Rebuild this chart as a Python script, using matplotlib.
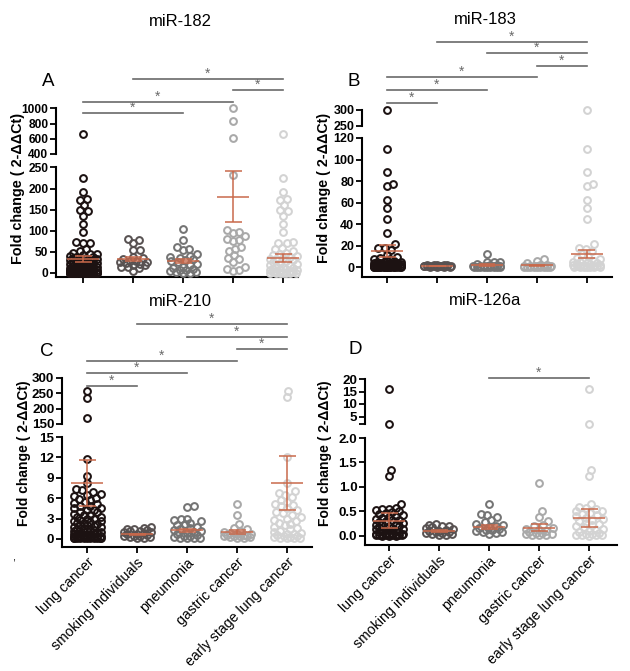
import numpy as np
import matplotlib
matplotlib.use("Agg")
import matplotlib.pyplot as plt
from matplotlib.lines import Line2D
from matplotlib.transforms import blended_transform_factory

plt.rcParams['font.family'] = ['Liberation Sans', 'DejaVu Sans']

W, H, DPI = 630, 671, 100

groups = ["lung cancer", "smoking individuals", "pneumonia", "gastric cancer", "early stage lung cancer"]
colors = ['#1c1212', '#585252', '#747474', '#a9a9a9', '#d3d3d3']
err_color = '#c9694b'

# ---- miR-182 (A) ----
lung_a = [660, 225, 193, 176, 174, 162, 150, 146, 136, 117, 98, 74, 72, 71, 57, 52, 48, 46, 44, 42,
          40, 39, 37, 36, 35, 34, 33, 31, 30, 29, 28, 27, 26, 25, 24, 23, 22, 21, 20, 19,
          18, 17, 16, 15, 14, 13, 12, 11, 10, 9, 9, 8, 8, 7, 7, 6, 6, 5, 5, 5,
          4, 4, 4, 3, 3, 3, 2.5, 2, 2, 2, 1.5, 1.5, 1, 1, 1, 1, 0.8, 0.8, 0.6, 0.6,
          0.5, 0.5, 0.4, 0.4, 0.3, 0.3, 0.3, 0.2, 0.2, 0.2, 0.1, 0.1, 0.1, 0.1, 0.1]
smoking_a = [81, 79, 72, 55, 55, 38, 36, 32, 29, 29, 27, 25, 24, 22, 20, 18, 15, 14, 12, 5]
pneumonia_a = [105, 78, 62, 58, 55, 45, 40, 38, 35, 32, 30, 28, 25, 22, 18, 15, 12, 10, 8, 6,
               5, 3, 2, 1, 0.5]
gastric_a = [1000, 835, 610, 232, 102, 98, 95, 88, 80, 78, 75, 62, 58, 52, 42, 35, 32, 25, 15, 10, 8, 5]
early_a = [660, 225, 193, 176, 174, 162, 150, 146, 136, 117, 98, 74, 72, 71, 60, 57, 52, 48, 45, 42,
           40, 38, 36, 34, 32, 30, 28, 26, 24, 22, 20, 18, 16, 14, 12, 10, 9, 8, 7, 6,
           5, 4, 3, 2, 2, 1, 1, 0.5, 0.5, 0.3, 0.2, 0.1]
mean_a = [33, 33, 28, 181, 36]
sem_a = [7, 4, 5, 61, 10]

# ---- miR-183 (B) ----
lung_b = [300, 110, 88, 77, 75, 62, 55, 45, 32, 21, 18, 18, 16, 11, 9, 8, 7, 7, 6, 6,
          5, 5, 5, 4, 4, 4, 3.5, 3, 3, 3, 2.5, 2.5, 2, 2, 2, 1.8, 1.6, 1.5, 1.4, 1.2,
          1.2, 1, 1, 1, 0.9, 0.8, 0.8, 0.7, 0.6, 0.6, 0.5, 0.5, 0.5, 0.4, 0.4, 0.3, 0.3, 0.3,
          0.2, 0.2, 0.2, 0.2, 0.1, 0.1, 0.1, 0.1, 0.1, 0.05, 0.05, 0.05]
smoking_b = [2.0, 1.8, 1.6, 1.5, 1.4, 1.2, 1.1, 1.0, 1.0, 0.9, 0.8, 0.8, 0.7, 0.6, 0.5, 0.5, 0.4, 0.3, 0.2, 0.1]
pneumonia_b = [12, 5.0, 4.8, 4.5, 2.5, 2.0, 1.5, 1.2, 1.0, 0.8, 0.7, 0.6, 0.5, 0.4, 0.3, 0.3, 0.2, 0.2,
               0.1, 0.1, 0.1, 0.05]
gastric_b = [7.0, 6.0, 3.5, 2.0, 1.5, 1.2, 1.0, 0.8, 0.7, 0.6, 0.5, 0.4, 0.3, 0.3, 0.2, 0.2, 0.1, 0.1,
             0.1, 0.05]
early_b = [300, 110, 88, 77, 75, 62, 55, 45, 21, 18, 17, 15, 12, 10, 8, 7, 6, 5, 5, 4,
           3.5, 3, 2.5, 2, 2, 1.5, 1.2, 1, 0.8, 0.6, 0.5, 0.4, 0.3, 0.2, 0.2, 0.1, 0.1, 0.05]
mean_b = [15, 0.8, 1.8, 1.4, 12]
sem_b = [5.5, 0.1, 0.6, 0.4, 4]

# ---- miR-210 (C) ----
lung_c = [258, 234, 170, 11.8, 9.3, 8.2, 7.4, 7.2, 6.9, 6.6, 6.5, 6.3, 6.1, 5.9, 5.7, 5.5, 5.3, 5.1,
          4.9, 4.8, 4.6, 4.5, 4.3, 4.2, 4.0, 3.9, 3.7, 3.6, 3.5, 3.3, 3.2, 3.0, 2.9, 2.8, 2.7, 2.6,
          2.5, 2.4, 2.3, 2.2, 2.1, 2.0, 1.9, 1.8, 1.7, 1.6, 1.5, 1.4, 1.3, 1.2, 1.1, 1.0, 1.0, 0.9,
          0.9, 0.8, 0.8, 0.7, 0.7, 0.6, 0.6, 0.5, 0.5, 0.5, 0.4, 0.4, 0.4, 0.3, 0.3, 0.3, 0.3, 0.2,
          0.2, 0.2, 0.2, 0.2, 0.1, 0.1, 0.1, 0.1, 0.1, 0.1]
smoking_c = [1.8, 1.6, 1.5, 1.4, 1.3, 1.2, 1.1, 1.0, 1.0, 0.9, 0.8, 0.7, 0.6, 0.5, 0.5, 0.4, 0.3, 0.3, 0.2, 0.2]
pneumonia_c = [4.8, 4.7, 3.0, 3.0, 2.8, 2.6, 2.4, 2.2, 2.0, 1.8, 1.6, 1.4, 1.3, 1.2, 1.0, 0.9, 0.8, 0.6,
               0.5, 0.4, 0.3, 0.2, 0.1, 0.1, 0.1]
gastric_c = [5.2, 3.5, 2.2, 1.6, 1.4, 1.2, 1.0, 0.9, 0.8, 0.7, 0.6, 0.6, 0.5, 0.5, 0.4, 0.4, 0.3, 0.3, 0.2, 0.2]
early_c = [258, 237, 12.0, 8.2, 7.0, 6.8, 6.5, 6.2, 5.8, 5.5, 5.2, 5.0, 4.8, 4.5, 4.2, 4.0, 3.8, 3.5,
           3.2, 3.0, 2.8, 2.6, 2.4, 2.2, 2.0, 1.8, 1.6, 1.4, 1.2, 1.0, 0.9, 0.8, 0.7, 0.6, 0.5, 0.4,
           0.3, 0.3, 0.2, 0.2, 0.1, 0.1]
mean_c = [8.2, 0.7, 1.25, 1.05, 8.2]
sem_c = [3.4, 0.1, 0.25, 0.25, 4.0]

# ---- miR-126a (D) ----
lung_d = [16, 2.2, 1.35, 1.22, 0.65, 0.58, 0.56, 0.55, 0.53, 0.5, 0.48, 0.46, 0.44, 0.42, 0.4, 0.38,
          0.36, 0.35, 0.33, 0.32, 0.3, 0.28, 0.27, 0.25, 0.24, 0.22, 0.21, 0.2, 0.18, 0.17, 0.16, 0.15,
          0.14, 0.12, 0.11, 0.1, 0.09, 0.08, 0.07, 0.06, 0.05, 0.05, 0.04, 0.03, 0.03, 0.02, 0.02, 0.01,
          0.01, 0.01, 0.01, 0.005, 0.005, 0.005]
smoking_d = [0.24, 0.22, 0.21, 0.2, 0.18, 0.16, 0.14, 0.12, 0.11, 0.1, 0.09, 0.08, 0.07, 0.06, 0.05,
             0.04, 0.03, 0.02]
pneumonia_d = [0.65, 0.45, 0.43, 0.38, 0.32, 0.28, 0.25, 0.22, 0.2, 0.18, 0.16, 0.15, 0.13, 0.12, 0.1,
               0.09, 0.08, 0.06, 0.05]
gastric_d = [1.08, 0.5, 0.38, 0.3, 0.23, 0.2, 0.16, 0.14, 0.12, 0.1, 0.08, 0.07, 0.06, 0.05, 0.04,
             0.03, 0.02, 0.01]
early_d = [16, 2.2, 1.35, 1.22, 0.65, 0.6, 0.57, 0.55, 0.52, 0.5, 0.47, 0.45, 0.42, 0.4, 0.37, 0.35,
           0.32, 0.3, 0.27, 0.25, 0.22, 0.2, 0.18, 0.15, 0.12, 0.1, 0.08, 0.06, 0.05, 0.04, 0.03, 0.02,
           0.01, 0.01, 0.005]
mean_d = [0.31, 0.1, 0.19, 0.17, 0.37]
sem_d = [0.15, 0.015, 0.04, 0.07, 0.19]

# significance comparisons (group index pairs)
sig_a = [(1, 4), (3, 4), (0, 3), (0, 2)]
sig_b = [(1, 4), (2, 4), (3, 4), (0, 3), (0, 2), (0, 1)]
sig_c = [(1, 4), (2, 4), (3, 4), (0, 3), (0, 2), (0, 1)]
sig_d = [(2, 4)]

# layout in pixels (y from top)
panels = [
    dict(title="miR-182", letter="A", data=[lung_a, smoking_a, pneumonia_a, gastric_a, early_a],
         mean=mean_a, sem=sem_a, sig=sig_a, sig_y=[79, 90, 102, 113],
         x0=56, x1=298, g0=83,
         low=(277, 167.5, -9.5, 250, [0, 50, 100, 150, 200, 250], None),
         up=(154, 108.5, 400, 1000, [400, 600, 800, 1000], None),
         title_xy=(180, 22), letter_xy=(48, 82), ylab_xy=(18, 188), ylab_fs=10.4, tick_fs=8.6, xlabels=False),
    dict(title="miR-183", letter="B", data=[lung_b, smoking_b, pneumonia_b, gastric_b, early_b],
         mean=mean_b, sem=sem_b, sig=sig_b, sig_y=[42, 53, 66, 77, 90, 103],
         x0=362, x1=612, g0=387,
         low=(277, 138, -9.3, 120, [0, 20, 40, 60, 80, 100, 120], None),
         up=(126, 110, 250, 300, [250, 300], None),
         title_xy=(485, 20), letter_xy=(354, 81), ylab_xy=(324, 188), ylab_fs=10.3, tick_fs=9, xlabels=False),
    dict(title="miR-210", letter="C", data=[lung_c, smoking_c, pneumonia_c, gastric_c, early_c],
         mean=mean_c, sem=sem_c, sig=sig_c, sig_y=[324, 337, 349, 361, 373, 386],
         x0=62, x1=312, g0=87,
         low=(547, 437, -1.18, 15, [0, 3, 6, 9, 12, 15], None),
         up=(424, 378, 150, 300, [150, 200, 250, 300], None),
         title_xy=(180, 302), letter_xy=(47, 352), ylab_xy=(24, 453), ylab_fs=10, tick_fs=9.6, xlabels=True),
    dict(title="miR-126a", letter="D", data=[lung_d, smoking_d, pneumonia_d, gastric_d, early_d],
         mean=mean_d, sem=sem_d, sig=sig_d, sig_y=[378],
         x0=365, x1=617, g0=389,
         low=(545, 438, -0.184, 2.0, [0, 0.5, 1.0, 1.5, 2.0], ["0.0", "0.5", "1.0", "1.5", "2.0"]),
         up=(424, 379, 2, 20, [2, 5, 10, 15, 20], ["", "5", "10", "15", "20"]),
         title_xy=(485, 300), letter_xy=(355, 350), ylab_xy=(325, 453), ylab_fs=10, tick_fs=9.6, xlabels=True),
]

GAP = 50.0  # pixels between groups


def fx(px):
    return px / W


def fy(py):
    return 1 - py / H


def swarm(ys, d=6.6, wmax=13.5):
    placed = []
    offs = []
    for y in ys:
        near = [(px, py) for px, py in placed if abs(py - y) < d]
        cands = [0.0]
        for px, py in near:
            dx = np.sqrt(d * d - (py - y) ** 2)
            cands += [px + dx, px - dx]
        cands.sort(key=abs)
        best = None
        for c in cands:
            if abs(c) > wmax:
                continue
            if all((c - px) ** 2 + (y - py) ** 2 >= d * d - 1e-6 for px, py in near):
                best = c
                break
        if best is None:
            grid = np.linspace(-wmax, wmax, 9)
            best = max(grid, key=lambda c: min((c - px) ** 2 + (y - py) ** 2 for px, py in near))
        placed.append((best, y))
        offs.append(best)
    return offs


def style_axis(ax, ticks, labels, fs):
    ax.set_yticks(ticks)
    ax.set_yticklabels(labels if labels is not None else [f"{t:g}" for t in ticks],
                       fontweight='bold', fontsize=fs)
    ax.tick_params(axis='y', direction='out', length=4, width=1.3, pad=1.5)
    for s in ['top', 'right']:
        ax.spines[s].set_visible(False)
    ax.spines['left'].set_linewidth(1.5)
    ax.spines['bottom'].set_linewidth(1.5)
    ax.patch.set_alpha(0)


fig = plt.figure(figsize=(W / DPI, H / DPI), dpi=DPI)

for p in panels:
    xl = ((p['x0'] - p['g0']) / GAP, (p['x1'] - p['g0']) / GAP)
    lb, lt, lymin, lymax, lticks, llabels = p['low']
    ub, ut, uymin, uymax, uticks, ulabels = p['up']

    ax = fig.add_axes([fx(p['x0']), fy(lb), fx(p['x1'] - p['x0']), (lb - lt) / H])
    axu = fig.add_axes([fx(p['x0']), fy(ub), fx(p['x1'] - p['x0']), (ub - ut) / H])
    for a in (ax, axu):
        a.set_xlim(*xl)
    ax.set_ylim(lymin, lymax)
    axu.set_ylim(uymin, uymax)
    style_axis(ax, lticks, llabels, p['tick_fs'])
    style_axis(axu, uticks, ulabels, p['tick_fs'])
    axu.spines['bottom'].set_visible(False)
    axu.set_xticks([])

    ax.set_xticks(range(len(groups)))
    ax.tick_params(axis='x', direction='out', length=4, width=1.3, pad=2)
    if p['xlabels']:
        ax.set_xticklabels(groups, rotation=45, ha='right', rotation_mode='anchor', fontsize=10.2)
    else:
        ax.set_xticklabels([])

    # points
    for gi, vals in enumerate(p['data']):
        vals = sorted(vals)
        ys = []
        for v in vals:
            a = axu if v > lymax else ax
            ys.append(a.transData.transform((0, v))[1])
        offs = swarm(ys)
        for v, o in zip(vals, offs):
            a = axu if v > lymax else ax
            a.plot(gi + o / GAP, v, 'o', ms=4.9, mfc='none', mec=colors[gi], mew=1.45,
                   clip_on=False, zorder=3)

    # mean +/- SEM
    for gi, (m, s) in enumerate(zip(p['mean'], p['sem'])):
        ax.hlines(m, gi - 0.32, gi + 0.32, color=err_color, lw=1.1, zorder=5, clip_on=False)
        ax.hlines([m - s, m + s], gi - 0.17, gi + 0.17, color=err_color, lw=1.1, zorder=5, clip_on=False)
        ax.vlines(gi, m - s, m + s, color=err_color, lw=1.1, zorder=5, clip_on=False)

    # significance bars
    tr = blended_transform_factory(ax.transData, fig.transFigure)
    for (i, j), yb in zip(p['sig'], p['sig_y']):
        fig.add_artist(Line2D([i, j], [fy(yb), fy(yb)], transform=tr, color='#6a6a6a', lw=1.2))
        fig.text((i + j) / 2, fy(yb - 5), "*", transform=tr, ha='center', va='center',
                 fontsize=10, color='#6a6a6a')

    fig.text(fx(p['title_xy'][0]), fy(p['title_xy'][1]), p['title'], ha='center', va='center', fontsize=12)
    fig.text(fx(p['letter_xy'][0]), fy(p['letter_xy'][1]), p['letter'], ha='center', va='center', fontsize=13.5)
    fig.text(fx(p['ylab_xy'][0]), fy(p['ylab_xy'][1]), "Fold change ( 2-ΔΔCt)", rotation=90,
             ha='center', va='center', fontsize=p['ylab_fs'], fontweight='bold')

fig.text(fx(14), fy(557), ",", ha='center', va='center', fontsize=8)

fig.savefig("out.png", dpi=DPI)
